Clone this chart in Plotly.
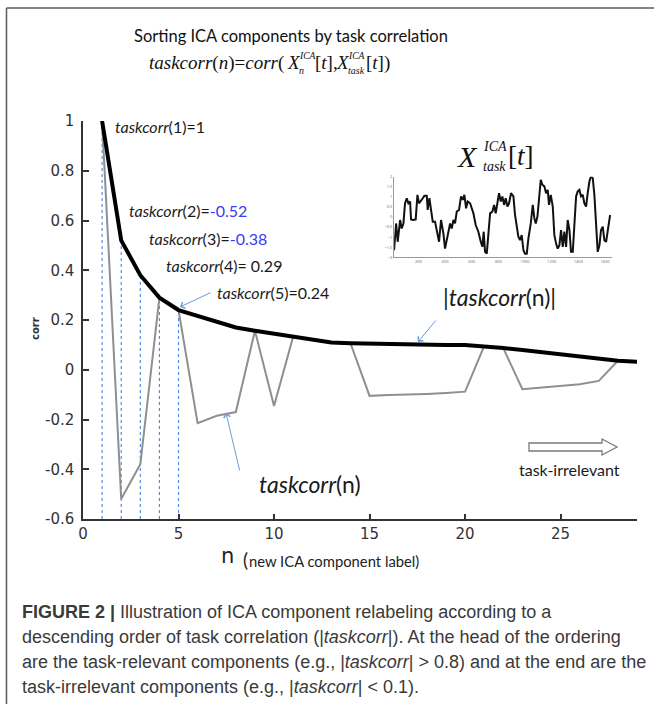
import plotly.graph_objects as go

# ---------------- data ----------------
n = list(range(1, 30))
abs_corr = [1.0, 0.52, 0.38, 0.29, 0.24, 0.217, 0.19, 0.17, 0.157, 0.146,
            0.133, 0.12, 0.11, 0.107, 0.105, 0.104, 0.103, 0.102, 0.10, 0.099,
            0.095, 0.087, 0.079, 0.07, 0.065, 0.056, 0.043, 0.036, 0.032]
taskcorr = [1.0, -0.52, -0.38, 0.29, 0.24, -0.215, -0.185, -0.17, 0.157, -0.146,
            0.133, 0.12, 0.11, 0.107, -0.105, -0.102, -0.10, -0.097, -0.093, -0.088,
            0.095, 0.087, -0.078, -0.072, -0.066, -0.058, -0.045, 0.036, 0.032]
highlight_n = [1, 2, 3, 4, 5]

x_ticks = [0, 5, 10, 15, 20, 25]
y_ticks = [-0.6, -0.4, -0.2, 0, 0.2, 0.4, 0.6, 0.8, 1]
y_ticktext = ["-0.6", "-0.4", "-0.2", "0", "0.2", "0.4", "0.6", "0.8", "1"]

# inset time series X_task^ICA[t]
t_inset = [18, 33, 45, 63, 75, 88, 100, 113, 125, 138, 145, 163, 180, 193, 205, 220,
           233, 245, 263, 270, 283, 295, 308, 325, 338, 355, 370, 388, 400, 413, 425,
           438, 450, 463, 475, 488, 505, 520, 533, 545, 558, 570, 588, 600, 613, 630,
           650, 668, 680, 690, 700, 713, 725, 738, 755, 768, 780, 793, 805, 818, 830,
           843, 855, 868, 880, 895, 913, 925, 938, 950, 963, 975, 988, 1000, 1013,
           1025, 1043, 1058, 1070, 1080, 1093, 1105, 1118, 1130, 1145, 1158, 1170,
           1180, 1193, 1208, 1220, 1233, 1245, 1258, 1270, 1283, 1295, 1308, 1320,
           1333, 1345, 1358, 1370, 1383, 1395, 1408, 1420, 1433, 1445, 1458, 1470,
           1483, 1495, 1508, 1520, 1533, 1545, 1558, 1570, 1583, 1595, 1608, 1620, 1638]
x_inset = [-1.65, -0.32, -1.23, -0.15, -0.57, -0.32, 0.68, 0.93, 0.68, 0.77, -0.12,
           -0.15, -0.12, 1.10, 0.68, 0.85, 0.93, 1.05, 1.05, 0.35, 0.93, 0.35, -0.23,
           -0.23, -0.65, -1.23, -0.15, -0.82, -1.57, -1.07, -0.73, -0.32, -0.57, -0.15,
           -0.32, 0.27, 0.35, 1.02, 0.85, 1.10, 0.43, 0.77, 0.68, 0.43, 0.18, -0.40,
           -0.73, -1.23, -1.48, -0.73, -1.73, -1.82, -0.98, 0.18, 0.27, 0.60, 0.18,
           0.68, 1.18, 0.77, 1.02, 0.60, 0.93, 0.52, 0.68, 1.18, 1.02, 0.10, -0.57,
           -0.98, -1.15, -0.90, -1.65, -1.82, -1.82, -1.07, -0.32, 0.60, -0.07, -0.32,
           0.02, 1.02, 1.85, 1.60, 1.52, 1.18, 1.35, 0.60, 1.10, 0.52, -0.90, -1.32,
           -1.57, -1.40, -0.65, -1.48, -0.73, -1.48, -0.15, -0.65, -1.73, -1.73, -0.32,
           1.02, 1.27, 1.35, 1.02, 1.10, 0.68, 0.52, 1.18, 1.77, 2.02, 1.93, 1.10,
           -0.48, -1.73, -1.40, -0.65, -0.48, -1.15, -1.23, -0.73, 0.10]
inset_xticks = [200, 400, 600, 800, 1000, 1200, 1400, 1600]
inset_yticks = [-2, -1.5, -1, -0.5, 0, 0.5, 1, 1.5, 2]

# ---------------- geometry helpers ----------------
W, H = 654, 704
L, R, T, B = 83, 637, 121, 519


def px(x, y):
    return (x - L) / (R - L), (B - y) / (B - T)


SANS = "Lato"
BLUE_TXT = "#3a3af5"
ARROW_BLUE = "#6d9bd6"

fig = go.Figure()

# dotted guide lines at first five components
gx, gy = [], []
for k in highlight_n:
    gx += [n[k - 1], n[k - 1], None]
    gy += [y_ticks[0], abs_corr[k - 1], None]
fig.add_trace(go.Scatter(x=gx, y=gy, mode="lines",
                         line=dict(color="#4f86d8", width=1.1, dash="dot"),
                         hoverinfo="skip", showlegend=False))

fig.add_trace(go.Scatter(x=n, y=taskcorr, mode="lines",
                         line=dict(color="#8f8f8f", width=2),
                         showlegend=False))
fig.add_trace(go.Scatter(x=n, y=abs_corr, mode="lines",
                         line=dict(color="#000000", width=4),
                         showlegend=False))

fig.add_trace(go.Scatter(x=t_inset, y=x_inset, mode="lines",
                         line=dict(color="#111111", width=2),
                         xaxis="x2", yaxis="y2", showlegend=False))

ann = []


def text(x, y, s, size, family=SANS, color="#1a1a1a", xanchor="left", **kw):
    xp, yp = px(x, y)
    ann.append(dict(x=xp, y=yp, xref="paper", yref="paper", text=s, showarrow=False,
                    xanchor=xanchor, yanchor="middle",
                    font=dict(size=size, family=family, color=color), **kw))


def arrow(tail, head):
    xp, yp = px(*head)
    ann.append(dict(x=xp, y=yp, xref="paper", yref="paper", text="", showarrow=True,
                    ax=tail[0] - head[0], ay=tail[1] - head[1],
                    arrowhead=4, arrowsize=1.3, arrowwidth=1, arrowcolor=ARROW_BLUE))


# title
text(291, 36, "Sorting ICA components by task correlation", 16.5, xanchor="center",
     color="#111")

# formula
SERIF = "Liberation Serif"
text(286, 63, "<i>taskcorr</i>(<i>n</i>)=<i>corr</i>(", 19, family=SERIF, color="#111",
     xanchor="right")
text(285, 63, "<i>X</i>", 19, family=SERIF, color="#111")
text(297, 56, "<i>ICA</i>", 9.5, family=SERIF, color="#111")
text(297, 70, "<i>n</i>", 10, family=SERIF, color="#111")
text(313, 63, "[<i>t</i>],", 19, family=SERIF, color="#111")
text(334, 63, "<i>X</i>", 19, family=SERIF, color="#111")
text(346, 56, "<i>ICA</i>", 9.5, family=SERIF, color="#111")
text(346, 70, "<i>task</i>", 10, family=SERIF, color="#111")
text(364, 63, "[<i>t</i>])", 19, family=SERIF, color="#111")

# inset title
text(455, 156, "<i>X</i>", 30, family=SERIF, color="#111")
text(481, 147, "<i>ICA</i>", 14, family=SERIF, color="#111")
text(481, 166, "<i>task</i>", 14, family=SERIF, color="#111")
text(506, 156, "[<i>t</i>]", 27, family=SERIF, color="#111")

# value labels for the first five components
label_pos = [(113, 126), (127, 210), (147, 238), (164, 265), (215, 292)]
for k, (lx, ly) in zip(highlight_n, label_pos):
    v = taskcorr[k - 1]
    if k == 1:
        vs = f"{v:g}"
    elif v < 0:
        vs = f"<span style='color:{BLUE_TXT}'>{v:.2f}</span>"
    elif k == 4:
        vs = f" {v:.2f}"
    else:
        vs = f"{v:.2f}"
    text(lx, ly, f"<i>taskcorr</i>({k})={vs}", 16)
arrow((212, 292), (180, 307))

# curve labels
text(441, 297, "|<i>taskcorr</i>(n)|", 23)
arrow((437, 319), (418, 342))
text(257, 484, "<i>taskcorr</i>(n)", 23)
arrow((240, 472), (226, 413))

# task-irrelevant
text(517, 469, "task-irrelevant", 16)

# axis titles
text(35, 329, "<b>corr</b>", 10, family="DejaVu Sans", color="#333", xanchor="center",
     textangle=-90)
text(227, 556, "n", 21, family="DejaVu Sans", color="#222", xanchor="center")
text(241, 559, "(", 19, color="#222")
text(247, 561, "new ICA component label)", 14.8, color="#222")

# caption
CAP = "Liberation Sans"
cap_lines = [
    "<b>FIGURE 2 |</b> Illustration of ICA component relabeling according to a",
    "descending order of task correlation (|<i>taskcorr</i>|). At the head of the ordering",
    "are the task-relevant components (e.g., |<i>taskcorr</i>| &gt; 0.8) and at the end are the",
    "task-irrelevant components (e.g., |<i>taskcorr</i>| &lt; 0.1).",
]
for i, s in enumerate(cap_lines):
    text(20, 612 + 25 * i, s, 18, family=CAP, color="#3a3a3a")

# ---------------- shapes ----------------
shapes = []


def pline(x0, y0, x1, y1, color, width):
    a, b = px(x0, y0)
    c, d = px(x1, y1)
    shapes.append(dict(type="line", xref="paper", yref="paper", x0=a, y0=b, x1=c, y1=d,
                       line=dict(color=color, width=width)))


# frame of the figure
pline(6.5, 8, 6.5, 710, "#5a5a5a", 1.5)
pline(6.5, 8, 660, 8, "#5a5a5a", 1.5)

# hollow arrow
pts = [(529, 443), (602, 443), (602, 439), (617, 447), (602, 455), (602, 451), (529, 451)]
path = ""
for i, (xx, yy) in enumerate(pts):
    a, b = px(xx, yy)
    path += ("M" if i == 0 else "L") + f"{a:.5f},{b:.5f}"
path += "Z"
shapes.append(dict(type="path", xref="paper", yref="paper", path=path,
                   line=dict(color="#7a7a7a", width=1.3), fillcolor="white"))

inset_dx = [px(394.1, 0)[0], px(611.7, 0)[0]]
inset_dy = [px(0, 257.3)[1], px(0, 176.7)[1]]

fig.update_layout(
    width=W, height=H,
    margin=dict(l=L, r=W - R, t=T, b=H - B, pad=0),
    paper_bgcolor="white", plot_bgcolor="white",
    showlegend=False,
    annotations=ann, shapes=shapes,
    xaxis=dict(range=[0, 29], tickvals=x_ticks, showgrid=False, zeroline=False,
               showline=True, linecolor="#333", linewidth=1.5, ticks="inside",
               ticklen=5, tickwidth=1.5, tickcolor="#333",
               tickfont=dict(family="DejaVu Sans", size=15, color="#333")),
    yaxis=dict(range=[-0.6, 1], tickvals=y_ticks, ticktext=y_ticktext, showgrid=False,
               zeroline=False, showline=True, linecolor="#333", linewidth=1.5,
               ticks="inside", ticklen=6, tickwidth=1.5, tickcolor="#333",
               ticklabelstandoff=4,
               tickfont=dict(family="DejaVu Sans", size=15, color="#333")),
    xaxis2=dict(domain=inset_dx, anchor="y2", range=[18, 1650], tickvals=inset_xticks,
                showgrid=False, zeroline=False, showline=True, linecolor="#999",
                linewidth=1, ticks="", tickfont=dict(size=4, color="#666")),
    yaxis2=dict(domain=inset_dy, anchor="x2", range=[-2, 2], tickvals=inset_yticks,
                showgrid=False, zeroline=False, showline=True, linecolor="#999",
                linewidth=1, ticks="", tickfont=dict(size=4, color="#666")),
)

fig.write_html("out.html", config={"displayModeBar": False},
               post_script="document.body.style.margin='0px';")
